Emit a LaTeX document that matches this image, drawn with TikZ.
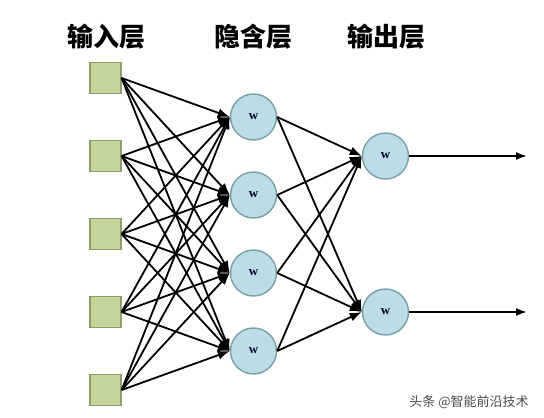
\documentclass[tikz,border=0pt]{standalone}
\usepackage{fontspec}
\newfontfamily\cjk{Noto Sans CJK SC}
\newfontfamily\wfont{Liberation Serif}
\usepackage{tikz}
\usetikzlibrary{arrows.meta}
\definecolor{inbox}{HTML}{C4D69C}
\definecolor{inedge}{HTML}{8E9E68}
\definecolor{cellfill}{HTML}{BCDDE5}
\definecolor{celledge}{HTML}{7A9EA8}
\tikzset{
	inunit/.style={draw=inedge, fill=inbox, line width=1.2pt, minimum size=31pt, inner sep=0pt},
	cell/.style={circle, draw=celledge, fill=cellfill, line width=1.4pt, minimum size=46pt, inner sep=0pt, font=\wfont\bfseries\fontsize{13}{13}\selectfont, text=black!85!blue},
	link/.style={line width=1.8pt, -{Latex[length=12pt,width=9pt]}},
	title/.style={font=\cjk\bfseries\fontsize{26}{26}\selectfont}
}

\begin{document}
\begin{tikzpicture}[x=1pt, y=-1pt]
		%%%%% START %%%%%
		\useasboundingbox (0, 0) rectangle (544, 418);
		
		\node[title] (tin) at (106, 37) {输入层};
		\node[title] (thid) at (253, 37) {隐含层};
		\node[title] (tout) at (386, 37) {输出层};
		
		\foreach \i/\y in {1/78, 2/156, 3/234, 4/312, 5/390}
			\node[inunit] (in\i) at (105.5, \y) {};
		\foreach \j/\y in {1/117, 2/195, 3/273, 4/351}
			\node[cell] (hid\j) at (253.5, \y) {w};
		\node[cell] (out1) at (385.5, 156) {w};
		\node[cell] (out2) at (385.5, 312) {w};
		
		\foreach \i in {1,...,5}
			\foreach \j in {1,...,4}
				\draw[link] (in\i.east) -- (hid\j.west);
		\foreach \j in {1,...,4}
			\foreach \k in {1,2}
				\draw[link] (hid\j.east) -- (out\k.west);
		
		\coordinate (end1) at (527, 156);
		\coordinate (end2) at (527, 312);
		\draw[line width=1.8pt, -{Latex[length=11pt,width=8pt]}] (out1.east) -- (end1);
		\draw[line width=1.8pt, -{Latex[length=11pt,width=8pt]}] (out2.east) -- (end2);
		
		\node[font=\cjk\fontsize{13}{13}\selectfont, text=black!70] (mark) at (469, 402) {头条 @智能前沿技术};
		%%%%% END %%%%%
	\end{tikzpicture}
\end{document}
